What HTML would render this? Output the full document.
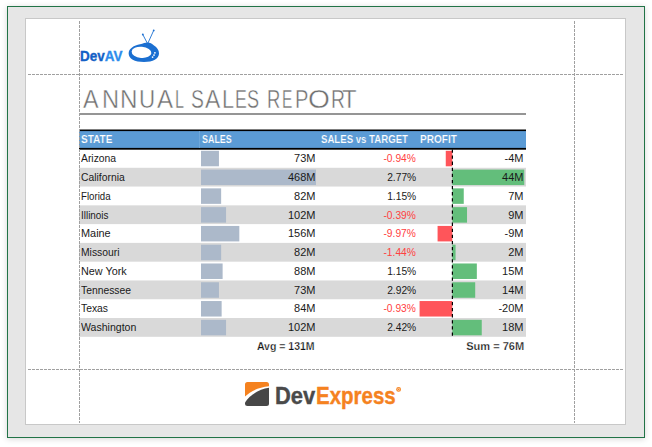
<!DOCTYPE html>
<html><head><meta charset="utf-8">
<style>
html,body{margin:0;padding:0;}
body{width:652px;height:447px;position:relative;overflow:hidden;background:#fff;font-family:"Liberation Sans",sans-serif;}
.frame{position:absolute;left:7px;top:6px;width:636px;height:430px;border:1px solid #217346;background:#e6e6e6;box-shadow:0 1px 6px rgba(0,0,0,0.17);}
.page{position:absolute;left:25px;top:18px;width:599px;height:405px;border:1px solid #c8c8c8;background:#fff;}
.vd{position:absolute;width:1px;background-image:linear-gradient(to bottom,#a0a0a0 0,#a0a0a0 3px,transparent 3px);background-size:1px 4px;}
.hd{position:absolute;height:1px;background-image:linear-gradient(to right,#a0a0a0 0,#a0a0a0 3px,transparent 3px);background-size:4px 1px;}
.uline{position:absolute;left:79px;top:113px;width:447px;height:2px;background:#959595;}
.hdr{position:absolute;left:79px;top:129.3px;width:447px;height:20.5px;background:#000;}
.hdrb{position:absolute;left:79px;top:131px;width:447px;height:16.7px;background:#5b9bd5;}
.hsep{position:absolute;left:199px;top:131px;width:1px;height:16.7px;background:#6fa8db;}
.band{position:absolute;left:79px;width:447px;background:#d9d9d9;}
.sbar{position:absolute;left:201px;height:15.5px;background:#acb9ca;}
.pbar{position:absolute;height:15.5px;}
.pos{background:#63be7b;}
.neg{background:#ff555a;}
.axis{position:absolute;left:452px;top:150px;width:1px;height:187px;background-image:linear-gradient(to bottom,#000 0,#000 2px,transparent 2px);background-size:1px 3px;}
.t{position:absolute;line-height:0;height:0;white-space:nowrap;}
</style></head><body>
<div class="frame"></div>
<div class="page"></div>

<div class="t" style="left:80.10px;top:56.05px;font-size:14px;color:#1f67c5;font-weight:bold;transform:scaleX(0.962);transform-origin:left center;"><span style="color:#1360c6;-webkit-text-stroke:0.35px #1360c6">Dev</span><span style="color:#2d8cec;-webkit-text-stroke:0.35px #2d8cec">AV</span></div>
<svg style="position:absolute;left:124px;top:26px" width="40" height="40" viewBox="0 0 40 40">
<g stroke="#1b6fd1" stroke-width="0.9" stroke-linecap="round">
<line x1="18.8" y1="8.5" x2="23.2" y2="17"/>
<line x1="29.7" y1="4.4" x2="24" y2="17"/>
</g>
<circle cx="18.8" cy="8.5" r="0.9" fill="#1b6fd1"/>
<circle cx="29.7" cy="4.4" r="0.9" fill="#1b6fd1"/>
<path d="M4.65 27.5 C4.65 22.5 10 19.5 16 18.3 C19 17.6 21.5 16.6 23.5 16.6 C26 16.6 28 17.8 30 19.5 C33 21.5 35 24 35 27.5 C35 32.5 29 36 20 36 C10.5 36 4.65 32.5 4.65 27.5Z" fill="#1b6fd1"/>
<ellipse cx="17.5" cy="26.3" rx="9.9" ry="5.6" transform="rotate(5 17.5 26.3)" fill="#fff"/>
<circle cx="30.9" cy="26.8" r="0.9" fill="#fff"/>
<circle cx="30" cy="29.1" r="0.9" fill="#fff"/>
<circle cx="28.6" cy="31.1" r="0.9" fill="#fff"/>
</svg>

<div class="t" style="left:83.35px;top:99.09px;font-size:26px;color:#6f6f6f;font-weight:normal;transform:scaleX(0.8991);transform-origin:left center;-webkit-text-stroke:0.45px #fff;">A</div>
<div class="t" style="left:101.66px;top:99.09px;font-size:26px;color:#6f6f6f;font-weight:normal;transform:scaleX(0.9089);transform-origin:left center;-webkit-text-stroke:0.45px #fff;">N</div>
<div class="t" style="left:120.22px;top:99.09px;font-size:26px;color:#6f6f6f;font-weight:normal;transform:scaleX(0.9295);transform-origin:left center;-webkit-text-stroke:0.45px #fff;">N</div>
<div class="t" style="left:138.97px;top:99.09px;font-size:26px;color:#6f6f6f;font-weight:normal;transform:scaleX(0.8602);transform-origin:left center;-webkit-text-stroke:0.45px #fff;">U</div>
<div class="t" style="left:156.75px;top:99.09px;font-size:26px;color:#6f6f6f;font-weight:normal;transform:scaleX(0.9281);transform-origin:left center;-webkit-text-stroke:0.45px #fff;">A</div>
<div class="t" style="left:174.88px;top:99.09px;font-size:26px;color:#6f6f6f;font-weight:normal;transform:scaleX(0.6193);transform-origin:left center;-webkit-text-stroke:0.45px #fff;">L</div>
<div class="t" style="left:191.32px;top:99.09px;font-size:26px;color:#6f6f6f;font-weight:normal;transform:scaleX(0.7416);transform-origin:left center;-webkit-text-stroke:0.45px #fff;">S</div>
<div class="t" style="left:204.56px;top:99.09px;font-size:26px;color:#6f6f6f;font-weight:normal;transform:scaleX(0.8817);transform-origin:left center;-webkit-text-stroke:0.45px #fff;">A</div>
<div class="t" style="left:221.51px;top:99.09px;font-size:26px;color:#6f6f6f;font-weight:normal;transform:scaleX(0.8374);transform-origin:left center;-webkit-text-stroke:0.45px #fff;">L</div>
<div class="t" style="left:234.95px;top:99.09px;font-size:26px;color:#6f6f6f;font-weight:normal;transform:scaleX(0.6812);transform-origin:left center;-webkit-text-stroke:0.45px #fff;">E</div>
<div class="t" style="left:247.28px;top:99.09px;font-size:26px;color:#6f6f6f;font-weight:normal;transform:scaleX(0.6948);transform-origin:left center;-webkit-text-stroke:0.45px #fff;">S</div>
<div class="t" style="left:266.78px;top:99.09px;font-size:26px;color:#6f6f6f;font-weight:normal;transform:scaleX(0.7126);transform-origin:left center;-webkit-text-stroke:0.45px #fff;">R</div>
<div class="t" style="left:281.93px;top:99.09px;font-size:26px;color:#6f6f6f;font-weight:normal;transform:scaleX(0.5961);transform-origin:left center;-webkit-text-stroke:0.45px #fff;">E</div>
<div class="t" style="left:294.55px;top:99.09px;font-size:26px;color:#6f6f6f;font-weight:normal;transform:scaleX(0.7732);transform-origin:left center;-webkit-text-stroke:0.45px #fff;">P</div>
<div class="t" style="left:307.87px;top:99.09px;font-size:26px;color:#6f6f6f;font-weight:normal;transform:scaleX(1.0818);transform-origin:left center;-webkit-text-stroke:0.45px #fff;">O</div>
<div class="t" style="left:330.71px;top:99.09px;font-size:26px;color:#6f6f6f;font-weight:normal;transform:scaleX(0.7449);transform-origin:left center;-webkit-text-stroke:0.45px #fff;">R</div>
<div class="t" style="left:341.66px;top:99.09px;font-size:26px;color:#6f6f6f;font-weight:normal;transform:scaleX(0.9183);transform-origin:left center;-webkit-text-stroke:0.45px #fff;">T</div>
<div class="uline"></div>

<svg style="position:absolute;left:0;top:0" width="652" height="447"><rect x="79" y="129.5" width="447" height="20.2" fill="#000"/><rect x="79" y="131.1" width="447" height="16.8" fill="#5b9bd5"/></svg>
<div class="hsep"></div>
<div class="t" style="left:81.20px;top:139.29px;font-size:10.7px;color:#fff;font-weight:bold;transform:scaleX(0.94);transform-origin:left center;-webkit-text-stroke:0.2px #5b9bd5;">STATE</div>
<div class="t" style="left:201.70px;top:139.29px;font-size:10.7px;color:#fff;font-weight:bold;transform:scaleX(0.835);transform-origin:left center;-webkit-text-stroke:0.2px #5b9bd5;">SALES</div>
<div class="t" style="left:320.80px;top:139.29px;font-size:10.7px;color:#fff;font-weight:bold;transform:scaleX(0.9);transform-origin:left center;-webkit-text-stroke:0.2px #5b9bd5;">SALES vs TARGET</div>
<div class="t" style="left:419.70px;top:139.29px;font-size:10.7px;color:#fff;font-weight:bold;transform:scaleX(0.94);transform-origin:left center;-webkit-text-stroke:0.2px #5b9bd5;">PROFIT</div>

<svg style="position:absolute;left:0;top:0" width="652" height="447"><rect x="201" y="150.80" width="17.94" height="15.5" fill="#acb9ca"/><rect x="445.76" y="150.80" width="6.54" height="15.5" fill="#ff555a"/><rect x="79" y="167.78" width="447" height="18.78" fill="#d9d9d9"/><rect x="201" y="169.58" width="114.99" height="15.5" fill="#acb9ca"/><rect x="452.3" y="169.58" width="71.98" height="15.5" fill="#63be7b"/><rect x="201" y="188.36" width="20.15" height="15.5" fill="#acb9ca"/><rect x="452.3" y="188.36" width="11.45" height="15.5" fill="#63be7b"/><rect x="79" y="205.34" width="447" height="18.78" fill="#d9d9d9"/><rect x="201" y="207.14" width="25.06" height="15.5" fill="#acb9ca"/><rect x="452.3" y="207.14" width="14.72" height="15.5" fill="#63be7b"/><rect x="201" y="225.92" width="38.33" height="15.5" fill="#acb9ca"/><rect x="437.58" y="225.92" width="14.72" height="15.5" fill="#ff555a"/><rect x="79" y="242.90" width="447" height="18.78" fill="#d9d9d9"/><rect x="201" y="244.70" width="20.15" height="15.5" fill="#acb9ca"/><rect x="452.3" y="244.70" width="3.27" height="15.5" fill="#63be7b"/><rect x="201" y="263.48" width="21.62" height="15.5" fill="#acb9ca"/><rect x="452.3" y="263.48" width="24.54" height="15.5" fill="#63be7b"/><rect x="79" y="280.46" width="447" height="18.78" fill="#d9d9d9"/><rect x="201" y="282.26" width="17.94" height="15.5" fill="#acb9ca"/><rect x="452.3" y="282.26" width="22.90" height="15.5" fill="#63be7b"/><rect x="201" y="301.04" width="20.64" height="15.5" fill="#acb9ca"/><rect x="419.58" y="301.04" width="32.72" height="15.5" fill="#ff555a"/><rect x="79" y="318.02" width="447" height="18.78" fill="#d9d9d9"/><rect x="201" y="319.82" width="25.06" height="15.5" fill="#acb9ca"/><rect x="452.3" y="319.82" width="29.45" height="15.5" fill="#63be7b"/></svg>
<div class="t" style="left:81.00px;top:158.19px;font-size:11px;color:#1a1a1a;font-weight:normal;transform:scaleX(0.94);transform-origin:left center;">Arizona</div>
<div class="t" style="right:336.50px;top:158.19px;font-size:11px;color:#1a1a1a;font-weight:normal;">73M</div>
<div class="t" style="right:236.20px;top:158.19px;font-size:11px;color:#ff4040;font-weight:normal;transform:scaleX(0.93);transform-origin:right center;">-0.94%</div>
<div class="t" style="right:128.50px;top:158.19px;font-size:11px;color:#1a1a1a;font-weight:normal;">-4M</div>
<div class="t" style="left:81.00px;top:176.97px;font-size:11px;color:#1a1a1a;font-weight:normal;transform:scaleX(0.94);transform-origin:left center;">California</div>
<div class="t" style="right:336.50px;top:176.97px;font-size:11px;color:#1a1a1a;font-weight:normal;">468M</div>
<div class="t" style="right:236.20px;top:176.97px;font-size:11px;color:#1a1a1a;font-weight:normal;transform:scaleX(0.93);transform-origin:right center;">2.77%</div>
<div class="t" style="right:128.50px;top:176.97px;font-size:11px;color:#1a1a1a;font-weight:normal;">44M</div>
<div class="t" style="left:81.00px;top:195.75px;font-size:11px;color:#1a1a1a;font-weight:normal;transform:scaleX(0.88);transform-origin:left center;">Florida</div>
<div class="t" style="right:336.50px;top:195.75px;font-size:11px;color:#1a1a1a;font-weight:normal;">82M</div>
<div class="t" style="right:236.20px;top:195.75px;font-size:11px;color:#1a1a1a;font-weight:normal;transform:scaleX(0.93);transform-origin:right center;">1.15%</div>
<div class="t" style="right:128.50px;top:195.75px;font-size:11px;color:#1a1a1a;font-weight:normal;">7M</div>
<div class="t" style="left:81.00px;top:214.53px;font-size:11px;color:#1a1a1a;font-weight:normal;transform:scaleX(0.9);transform-origin:left center;">Illinois</div>
<div class="t" style="right:336.50px;top:214.53px;font-size:11px;color:#1a1a1a;font-weight:normal;">102M</div>
<div class="t" style="right:236.20px;top:214.53px;font-size:11px;color:#ff4040;font-weight:normal;transform:scaleX(0.93);transform-origin:right center;">-0.39%</div>
<div class="t" style="right:128.50px;top:214.53px;font-size:11px;color:#1a1a1a;font-weight:normal;">9M</div>
<div class="t" style="left:81.00px;top:233.31px;font-size:11px;color:#1a1a1a;font-weight:normal;transform:scaleX(0.99);transform-origin:left center;">Maine</div>
<div class="t" style="right:336.50px;top:233.31px;font-size:11px;color:#1a1a1a;font-weight:normal;">156M</div>
<div class="t" style="right:236.20px;top:233.31px;font-size:11px;color:#ff4040;font-weight:normal;transform:scaleX(0.93);transform-origin:right center;">-9.97%</div>
<div class="t" style="right:128.50px;top:233.31px;font-size:11px;color:#1a1a1a;font-weight:normal;">-9M</div>
<div class="t" style="left:81.00px;top:252.09px;font-size:11px;color:#1a1a1a;font-weight:normal;transform:scaleX(0.94);transform-origin:left center;">Missouri</div>
<div class="t" style="right:336.50px;top:252.09px;font-size:11px;color:#1a1a1a;font-weight:normal;">82M</div>
<div class="t" style="right:236.20px;top:252.09px;font-size:11px;color:#ff4040;font-weight:normal;transform:scaleX(0.93);transform-origin:right center;">-1.44%</div>
<div class="t" style="right:128.50px;top:252.09px;font-size:11px;color:#1a1a1a;font-weight:normal;">2M</div>
<div class="t" style="left:81.00px;top:270.87px;font-size:11px;color:#1a1a1a;font-weight:normal;transform:scaleX(0.983);transform-origin:left center;">New York</div>
<div class="t" style="right:336.50px;top:270.87px;font-size:11px;color:#1a1a1a;font-weight:normal;">88M</div>
<div class="t" style="right:236.20px;top:270.87px;font-size:11px;color:#1a1a1a;font-weight:normal;transform:scaleX(0.93);transform-origin:right center;">1.15%</div>
<div class="t" style="right:128.50px;top:270.87px;font-size:11px;color:#1a1a1a;font-weight:normal;">15M</div>
<div class="t" style="left:81.00px;top:289.65px;font-size:11px;color:#1a1a1a;font-weight:normal;transform:scaleX(0.94);transform-origin:left center;">Tennessee</div>
<div class="t" style="right:336.50px;top:289.65px;font-size:11px;color:#1a1a1a;font-weight:normal;">73M</div>
<div class="t" style="right:236.20px;top:289.65px;font-size:11px;color:#1a1a1a;font-weight:normal;transform:scaleX(0.93);transform-origin:right center;">2.92%</div>
<div class="t" style="right:128.50px;top:289.65px;font-size:11px;color:#1a1a1a;font-weight:normal;">14M</div>
<div class="t" style="left:81.00px;top:308.43px;font-size:11px;color:#1a1a1a;font-weight:normal;transform:scaleX(0.94);transform-origin:left center;">Texas</div>
<div class="t" style="right:336.50px;top:308.43px;font-size:11px;color:#1a1a1a;font-weight:normal;">84M</div>
<div class="t" style="right:236.20px;top:308.43px;font-size:11px;color:#ff4040;font-weight:normal;transform:scaleX(0.93);transform-origin:right center;">-0.93%</div>
<div class="t" style="right:128.50px;top:308.43px;font-size:11px;color:#1a1a1a;font-weight:normal;">-20M</div>
<div class="t" style="left:81.00px;top:327.21px;font-size:11px;color:#1a1a1a;font-weight:normal;transform:scaleX(0.959);transform-origin:left center;">Washington</div>
<div class="t" style="right:336.50px;top:327.21px;font-size:11px;color:#1a1a1a;font-weight:normal;">102M</div>
<div class="t" style="right:236.20px;top:327.21px;font-size:11px;color:#1a1a1a;font-weight:normal;transform:scaleX(0.93);transform-origin:right center;">2.42%</div>
<div class="t" style="right:128.50px;top:327.21px;font-size:11px;color:#1a1a1a;font-weight:normal;">18M</div>
<svg style="position:absolute;left:0;top:0" width="652" height="447"><line x1="452.4" y1="149.4" x2="452.4" y2="337" stroke="#000" stroke-width="1.2" stroke-dasharray="3.3 2.8"/></svg>

<div class="t" style="right:337.40px;top:346.16px;font-size:10.5px;color:#111;font-weight:bold;-webkit-text-stroke:0.25px #fff;">Avg = 131M</div>
<div class="t" style="right:128.20px;top:346.16px;font-size:10.5px;color:#111;font-weight:bold;transform:scaleX(1.05);transform-origin:right center;-webkit-text-stroke:0.25px #fff;">Sum = 76M</div>

<svg style="position:absolute;left:245px;top:382px" width="24" height="24" viewBox="0 0 24 24">
<path d="M2.5 0 H21.5 Q24 0 24 2.5 V4.2 C14 5 5 9.5 0 14.5 V2.5 Q0 0 2.5 0Z" fill="#f5821f"/>
<path d="M24 5.7 V21.5 Q24 24 21.5 24 H2.5 Q0 24 0 21.5 V20.5 C5 13 14 7 24 5.7Z" fill="#474747"/>
</svg>
<div class="t" style="left:274.60px;top:395.88px;font-size:24px;color:#4a4a4a;font-weight:bold;transform:scaleX(0.913);transform-origin:left center;-webkit-text-stroke:0.4px #4a4a4a;">Dev</div>
<div class="t" style="left:315.60px;top:395.88px;font-size:24px;color:#f5821f;font-weight:bold;transform:scaleX(0.854);transform-origin:left center;-webkit-text-stroke:0.4px #f5821f;">Express</div>
<svg style="position:absolute;left:395px;top:386px" width="7" height="7" viewBox="0 0 7 7"><circle cx="3.6" cy="3.4" r="2.4" fill="#f5821f"/><circle cx="3.6" cy="3.4" r="1.1" fill="none" stroke="#fff" stroke-width="0.5"/></svg>
<div class="vd" style="left:79px;top:21px;height:402px"></div>
<div class="vd" style="left:574px;top:21px;height:402px"></div>
<div class="hd" style="left:28px;top:74px;width:596px"></div>
<div class="hd" style="left:28px;top:369px;width:596px"></div>
</body></html>
